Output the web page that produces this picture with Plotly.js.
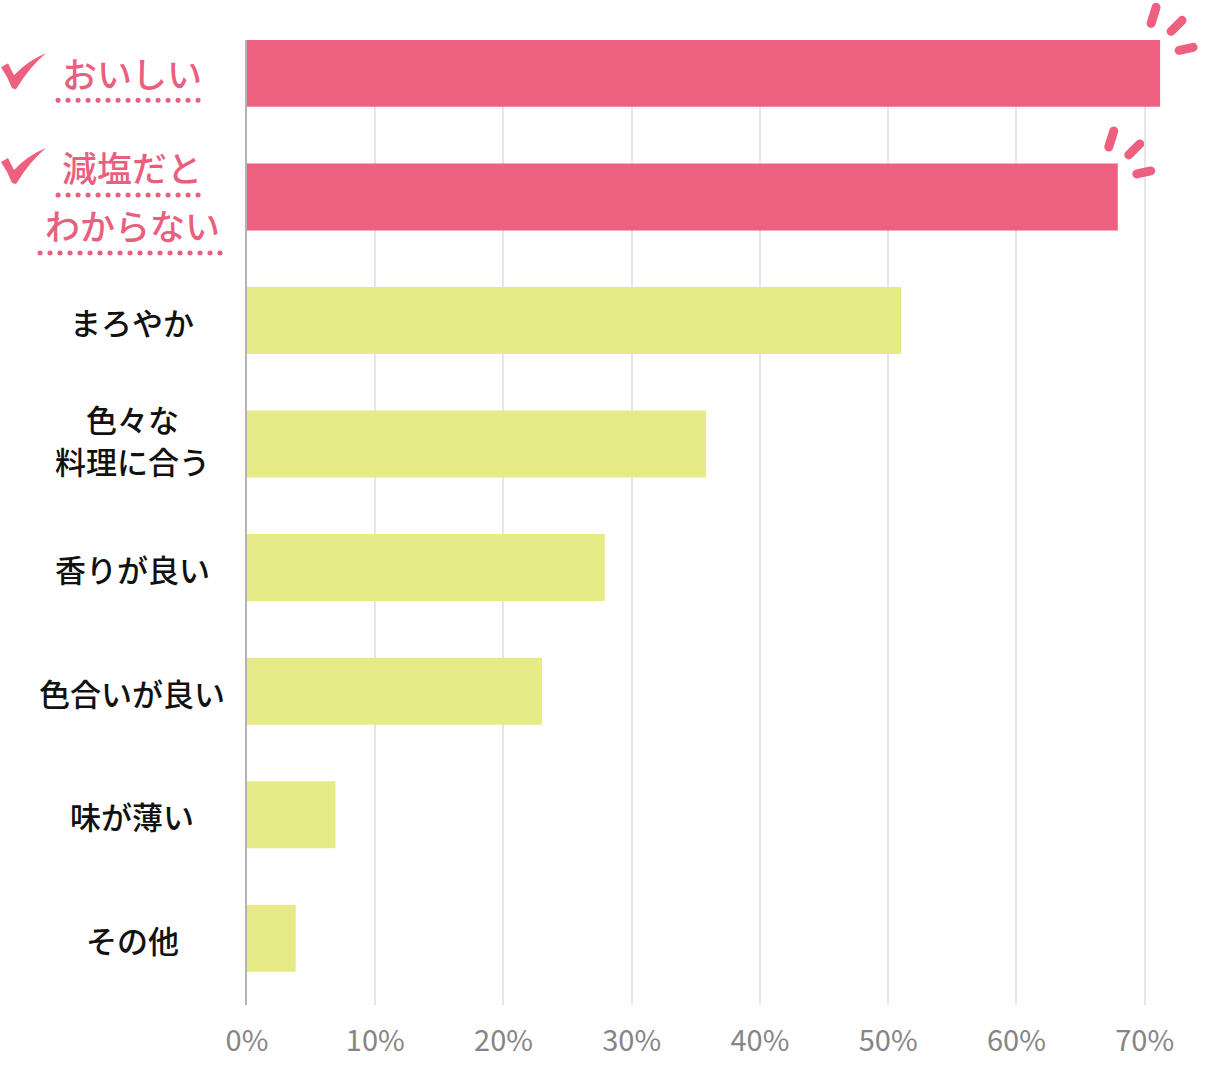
<!DOCTYPE html>
<html>
<head>
<meta charset="utf-8">
<script src="https://cdn.plot.ly/plotly-3.0.1.min.js"></script>
<style>html,body{margin:0;padding:0;background:#fff;}#chart{width:1212px;height:1084px;}</style>
</head>
<body>
<div id="chart"></div>
<script>
// ---- data ----
const categories = ["おいしい", "減塩だと<br>わからない", "まろやか", "色々な<br>料理に合う", "香りが良い", "色合いが良い", "味が薄い", "その他"];
const values = [71.2, 67.9, 51.0, 35.8, 27.9, 23.0, 6.9, 3.8];
const highlighted = [true, true, false, false, false, false, false, false];
const tickValues = [0, 10, 20, 30, 40, 50, 60, 70];
const tickLabels = ["0%", "10%", "20%", "30%", "40%", "50%", "60%", "70%"];

// ---- styles ----
const PINK = "#ed6080";
const YELLOW = "#e6eb87";
const PINK_TEXT = "#e9607f";
const JP = "Noto Sans CJK JP, Noto Sans, sans-serif";
const X_RANGE = [0, 74];
const Y_RANGE = [7.54, -0.27];
const M = { l: 247, r: 16, t: 40, b: 79 };
const PW = 1212 - M.l - M.r;

const trace = {
  type: "bar",
  orientation: "h",
  x: values,
  y: categories,
  marker: { color: highlighted.map(h => h ? PINK : YELLOW), line: { width: 0 } },
  hoverinfo: "skip"
};

const annotations = [];
const shapes = [];
const labelX = (132 - M.l) / PW;
const yPaper = i => (Y_RANGE[0] - i) / (Y_RANGE[0] - Y_RANGE[1]);
const xPaper = v => (v - X_RANGE[0]) / (X_RANGE[1] - X_RANGE[0]);
const checkPath = "M-21,5 L-14,9 Q-11,3 -8,-3 Q6,12 24,19 Q8,6 -6,-17 L-10,-16 Q-14,-5 -21,5 Z";

categories.forEach((cat, i) => {
  const lines = cat.split("<br>");
  const hi = highlighted[i];
  const gap = hi ? 58 : 42;
  const center = hi ? 1 : (lines.length > 1 ? 5 : -1);
  lines.forEach((ln, k) => {
    const shift = center + ((lines.length - 1) / 2 - k) * gap;
    annotations.push({
      xref: "paper", yref: "y", x: labelX, y: i, xanchor: "center", yanchor: "middle",
      text: ln, showarrow: false, yshift: shift,
      font: { family: JP, size: hi ? 35 : 31, weight: 500, color: hi ? PINK_TEXT : "#111111" }
    });
    if (hi) {
      const w = ln.length * 36 + 4;
      shapes.push({
        type: "line", xref: "paper", yref: "y", ysizemode: "pixel", yanchor: i,
        x0: labelX - (w / 2) / PW, x1: labelX + (w / 2) / PW,
        y0: shift - 28, y1: shift - 28,
        line: { color: PINK_TEXT, width: 5, dash: "5px,5px" }, name: "dots"
      });
      if (k === 0) {
        shapes.push({
          type: "path", xref: "paper", yref: "paper",
          xsizemode: "pixel", ysizemode: "pixel",
          xanchor: (22 - M.l) / PW, yanchor: yPaper(i),
          path: checkPath.replace(/(-?\d+),(-?\d+)/g, (m, a, b) => a + "," + (Number(b) + shift)),
          fillcolor: PINK, line: { width: 0 }, name: "check"
        });
      }
    }
  });
  if (hi) {
    const segs = [[-9, 50, -4, 66], [11, 42, 22, 53], [19, 23, 33, 26]];
    segs.forEach(s => {
      shapes.push({
        type: "line", xref: "paper", xsizemode: "pixel", xanchor: xPaper(values[i]),
        yref: "paper", ysizemode: "pixel", yanchor: yPaper(i),
        x0: s[0], y0: s[1], x1: s[2], y1: s[3],
        line: { color: PINK, width: 9 }, name: "spark"
      });
    });
  }
});

const layout = {
  width: 1212, height: 1084,
  margin: M,
  paper_bgcolor: "#ffffff", plot_bgcolor: "#ffffff",
  showlegend: false,
  bargap: 0.458,
  xaxis: {
    range: X_RANGE, tickvals: tickValues, ticktext: tickLabels,
    showgrid: true, gridcolor: "#e6e6e6", gridwidth: 2,
    zeroline: false, showline: false,
    ticks: "outside", ticklen: 10, tickcolor: "rgba(0,0,0,0)",
    tickfont: { family: JP, size: 29, color: "#858585" },
    fixedrange: true
  },
  yaxis: {
    type: "category", range: Y_RANGE,
    showticklabels: false, showgrid: false, zeroline: false,
    showline: true, linecolor: "#b3b3b3", linewidth: 2,
    ticks: "", fixedrange: true
  },
  annotations: annotations,
  shapes: shapes
};

Plotly.newPlot("chart", [trace], layout, { displayModeBar: false, staticPlot: true }).then(gd => {
  const paths = gd.querySelectorAll(".shapelayer path");
  const full = gd._fullLayout.shapes;
  paths.forEach((p, idx) => {
    const sh = full[idx];
    if (!sh) return;
    if (sh.name === "spark" || sh.name === "dots") p.style.strokeLinecap = "round";
    if (sh.name === "dots") p.style.strokeDasharray = "0.1px,9.9px";
  });
});
</script>
</body>
</html>
